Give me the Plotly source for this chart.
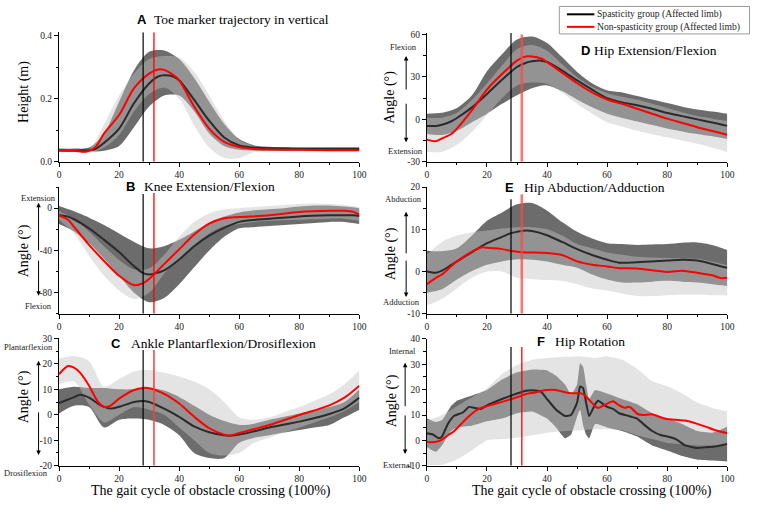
import plotly.graph_objects as go

W, H = 758, 506

# ---------------- data (x = % of gait cycle) ----------------
BAND_X = [0, 5, 10, 15, 20, 25, 30, 35, 40, 45, 50, 55, 60, 65, 70, 75, 80, 85, 90, 95, 100]

# A  Toe marker trajectory (m)
A_MEAN_X = [0, 5, 9, 12, 15, 20, 25, 30, 33, 35, 38, 40, 45, 50, 55, 60, 65, 70, 80, 90, 100]
A_SP_MEAN = [0.037, 0.036, 0.036, 0.040, 0.060, 0.105, 0.186, 0.248, 0.270, 0.274, 0.270, 0.258, 0.196, 0.130, 0.077, 0.052, 0.045, 0.043, 0.041, 0.041, 0.041]
A_NS_MEAN = [0.036, 0.035, 0.032, 0.045, 0.090, 0.148, 0.233, 0.279, 0.292, 0.291, 0.275, 0.258, 0.175, 0.105, 0.063, 0.047, 0.041, 0.039, 0.038, 0.037, 0.037]
A_SP_UP = [0.042, 0.042, 0.045, 0.09, 0.19, 0.29, 0.348, 0.352, 0.325, 0.265, 0.19, 0.12, 0.072, 0.052, 0.048, 0.047, 0.046, 0.046, 0.046, 0.046, 0.046]
A_SP_LO = [0.033, 0.032, 0.032, 0.035, 0.05, 0.11, 0.175, 0.21, 0.21, 0.16, 0.09, 0.05, 0.038, 0.035, 0.035, 0.035, 0.035, 0.035, 0.035, 0.035, 0.035]
A_NS_UP = [0.040, 0.040, 0.040, 0.12, 0.21, 0.28, 0.325, 0.335, 0.33, 0.285, 0.21, 0.13, 0.07, 0.05, 0.043, 0.042, 0.041, 0.041, 0.041, 0.041, 0.041]
A_NS_LO = [0.032, 0.031, 0.028, 0.045, 0.085, 0.16, 0.215, 0.235, 0.20, 0.115, 0.045, 0.012, 0.012, 0.030, 0.033, 0.033, 0.033, 0.033, 0.033, 0.033, 0.033]

# B  Knee extension/flexion (deg)
B_MEAN_X = [0, 3, 5, 10, 15, 20, 25, 28, 30, 35, 40, 45, 50, 55, 60, 70, 80, 90, 95, 98, 100]
B_SP_MEAN = [-6.8, -8, -10.5, -19.2, -30, -41.5, -55, -61.5, -62.8, -59, -48.7, -36, -26, -18.6, -13, -10, -7.8, -6.8, -6.6, -6.8, -7.4]
B_NS_MEAN = [-6.8, -10.9, -17.7, -34.7, -50, -64, -72.9, -71, -67, -53, -39, -25, -14.6, -9.5, -8.4, -6.8, -3.7, -2.5, -2.5, -3.5, -6.2]
B_SP_UP = [2, -3, -9, -16, -24, -32, -38, -36, -30, -22, -14, -8, -4, -2, -1, 0, 1.5, 2.5, 2.5, 1.5, 0]
B_SP_LO = [-15, -22, -33, -48, -64, -80, -89, -85, -72, -56, -40, -27, -19, -18, -17, -16, -15, -14, -13, -13, -15]
B_NS_UP = [-3, -10, -22, -36, -49, -58, -57, -44, -27, -13, -5, -1, 0, 1, 2, 3, 4, 4.5, 4, 3, 1]
B_NS_LO = [-11, -24, -45, -64, -78, -86, -80, -62, -48, -35, -24, -17, -15, -13, -12, -11.5, -11, -10.5, -10, -10, -12]

# C  Ankle plantarflexion/dorsiflexion (deg)
C_MEAN_X = [0, 3, 5, 7, 10, 13, 15, 17, 20, 25, 28, 30, 35, 40, 45, 50, 55, 57, 60, 65, 70, 80, 90, 95, 100]
C_SP_MEAN = [4.6, 6.0, 6.9, 7.8, 6.7, 4.3, 3.1, 2.4, 3.1, 5, 5.4, 5, 2.4, -0.8, -4.6, -6.9, -8.1, -8.2, -7.8, -6.5, -5, -2.7, 0.3, 2.5, 6.7]
C_NS_MEAN = [15.9, 19.1, 18.5, 16.5, 11.4, 5, 3.1, 3.5, 6.3, 9.7, 10.5, 10.4, 8.2, 4.4, -0.8, -5.3, -7.8, -8.1, -7.2, -5.6, -4, -0.1, 3.7, 6.7, 11.4]
C_SP_UP = [10, 11, 10.5, 10.5, 10, 10, 10.5, 9.5, 7, 3.5, 0, -2.5, -4, -3.5, -2, -0.8, 0.5, 1.8, 3, 5, 10]
C_SP_LO = [0.5, 3.5, 3, -5, -2, -1.5, -2, -4, -8, -15, -17, -17, -11, -9, -8, -7, -6, -5, -4, -1, 2]
C_NS_UP = [22, 23, 21, 11, 14, 17, 17.5, 16.5, 15, 13, 10, 5, -1, -2, -1, 1, 3, 5.5, 8, 12, 17.5]
C_NS_LO = [12, 13, 4, -3, 0, 3, 2, 0, -5, -10, -15, -16, -15, -11, -9, -7, -5, -3, -1, 1.5, 5]

# D  Hip extension/flexion (deg)
D_MEAN_X = [0, 3, 5, 8, 10, 15, 20, 25, 30, 33, 35, 38, 40, 45, 50, 55, 60, 65, 70, 75, 80, 85, 90, 95, 100]
D_SP_MEAN = [-4.6, -4.6, -3.8, -1.5, 1.0, 8.5, 18, 28, 37, 40, 41, 41.5, 40.5, 34.5, 27.5, 21, 15, 12, 10, 7.5, 4.5, 2.3, 0, -2.2, -4.6]
D_NS_MEAN = [-14.3, -15.5, -13.5, -10.5, -6.5, 6.5, 21, 32, 41.5, 44.5, 44.5, 43, 40.5, 33, 25.5, 19, 14, 11, 7.5, 4, 0.5, -2.5, -5.5, -8.2, -10.8]
D_SP_UP = [4, 4.6, 8, 17, 34, 46, 56.5, 58.5, 54, 44, 33.5, 25.5, 20.5, 19, 16.5, 14, 11.5, 9, 7, 5.5, 4]
D_SP_LO = [-10.4, -11, -8, -2, 4, 11, 17, 22, 24, 20, 14, 8.5, 4, 1, -1.5, -4, -6.5, -8.5, -10.4, -12, -13.8]
D_NS_UP = [1.2, 1.2, 4.6, 13.8, 25.4, 38, 49.6, 52.5, 48.5, 39, 30, 23, 18.5, 16, 13.8, 11, 8, 5, 2.3, 0.5, -1.2]
D_NS_LO = [-23, -23, -18, -9, 3, 15, 24, 26, 25, 19, 11, 4, -2, -5, -8, -10.5, -12.7, -15, -17.3, -20, -23]

# E  Hip abduction/adduction (deg)
E_MEAN_X = [0, 3, 5, 8, 10, 15, 18, 20, 25, 28, 30, 33, 35, 40, 45, 50, 55, 60, 64, 70, 80, 85, 90, 95, 98, 100]
E_SP_MEAN = [0, -0.3, 0.2, 1.5, 2.4, 4.6, 5.9, 6.7, 8.2, 9.1, 9.4, 9.7, 9.6, 8.6, 7, 5.3, 3.9, 2.8, 2.1, 2.2, 2.6, 2.8, 2.6, 1.8, 1.2, 0.9]
E_NS_MEAN = [-3, -1.5, -0.7, 1.2, 2.4, 4.7, 5.7, 5.6, 5.3, 4.9, 4.7, 4.5, 4.5, 4.4, 3.9, 2.4, 1.6, 1.2, 0.8, 0.7, -0.1, 0.2, -0.3, -0.9, -1.6, -1.5]
E_SP_UP = [4.9, 4.8, 5.5, 8.5, 12, 14, 15.9, 16.2, 14.4, 11.7, 9.4, 7.8, 6.7, 6.5, 6.3, 6.4, 6.5, 6.8, 6.9, 6.3, 5.1]
E_SP_LO = [-5, -4.2, -1.9, 0.1, 1.6, 2.4, 2.9, 2.8, 2.4, 1.6, 0.9, -0.7, -1.9, -2.6, -2.6, -2.4, -2.2, -2.4, -2.6, -3, -3.4]
E_NS_UP = [4, 7, 8.5, 9.3, 9.7, 10.2, 10.5, 10.5, 10, 8.5, 6.5, 5.5, 4.5, 4, 3.5, 3.3, 3.2, 3.1, 3, 2.3, 1.5]
E_NS_LO = [-8, -6.5, -4, -1.5, 0, 0, -1.5, -1.8, -2, -2.2, -3, -4, -4.5, -5.2, -5.8, -5.8, -5.6, -5.5, -5.5, -5.6, -5.6]

# F  Hip rotation (deg)
F_MEAN_X = [0, 2, 4, 5, 7, 9, 12, 14, 16, 18, 20, 25, 30, 33, 36, 38, 40, 43, 46, 48, 50, 51, 52, 54, 56, 57, 60, 62, 64, 66, 67, 68, 70, 72, 75, 78, 80, 83, 86, 90, 93, 96, 100]
F_SP_MEAN = [2.8, 2.3, 0.8, 1.5, 6.5, 9.6, 11, 13.2, 12.8, 12.4, 13.8, 16.3, 18.5, 19.6, 19.7, 19.2, 16.3, 12.1, 9.6, 10, 14.9, 21.3, 20.6, 9.6, 14.2, 15.6, 13.2, 12.4, 10.7, 10, 9.7, 9.3, 8.6, 6.5, 3.7, 2, 1.5, 0.4, -2, -3, -2.7, -2.4, -1.4]
F_NS_MEAN = [-0.6, -0.7, -0.3, 0.3, 2, 3.6, 7.2, 9.5, 11.5, 12.8, 13.5, 15.2, 17, 18.3, 18.9, 19.5, 19.9, 19.9, 19, 18.6, 18.6, 18.6, 18.2, 16, 13.5, 12.8, 14.5, 15.4, 13.8, 12.8, 13.3, 12.8, 10.5, 10, 10.3, 9, 8.4, 8.1, 7.8, 6.5, 5.3, 4, 2.8]
F_BAND_X = [0, 3, 5, 8, 10, 15, 20, 25, 30, 35, 40, 43, 46, 48, 50, 51, 52, 53, 54, 56, 60, 65, 70, 75, 80, 85, 90, 95, 100]
F_SP_UP = [8.6, 7.2, 7.9, 13.5, 15.6, 17.7, 19.9, 24, 26.9, 27.9, 27.6, 25.5, 22, 18, 22, 30.4, 29, 22, 16.3, 19.9, 18.5, 16.3, 14.2, 10.7, 8.6, 6.5, 3.7, 3, 5.4]
F_SP_LO = [-2.7, -4.5, -2, 3.7, 5.1, 5.8, 7.5, 8.6, 10.7, 11.4, 8.6, 5.1, 0.8, 2.3, 9.3, 12.1, 6, 2.3, 0.8, 6.5, 5.1, 3.7, 1.5, -2, -4, -6.2, -7.6, -7.9, -8.3]
F_NS_UP = [7.9, 9, 10, 12, 13.5, 17, 20.6, 26.2, 29.7, 31.8, 32.5, 32.8, 33, 33, 33.2, 33.2, 33, 33, 32.8, 32.5, 33.2, 31.8, 28.3, 23.4, 21.3, 18.5, 14.9, 12.8, 11.4]
F_NS_LO = [-9.7, -9.7, -9.7, -8.5, -7.6, -4, 0, 0.5, 1, 2, 3, 3.4, 3.7, 3.8, 3.9, 4, 4.1, 4.2, 4.3, 4.4, 4.4, 4, 2, 0.5, -1, -1.5, -2, -2, -2]

# toe-off / obstacle events (% of cycle)
EVENT_SP = 28.0
EVENT_NS = 31.6

SP_NAME = "Spasticity group (Affected limb)"
NS_NAME = "Non-spasticity group (Affected limb)"
X_TITLE = "The gait cycle of obstacle crossing (100%)"

X_TICKS = [0, 20, 40, 60, 80, 100]
X_MINOR = [10, 30, 50, 70, 90]

# ---------------- style ----------------
SERIF = "Liberation Serif"
SANS = "Liberation Sans"
DARK = "rgb(108,108,108)"
LIGHT = "rgba(195,195,195,0.45)"
BLACK_LINE = "#2b2b2b"
RED = "#ff0000"


def fx(p):
    return p / W


def fy(p):
    return 1 - p / H


COL_X = [(57.7, 361.7), (430.0, 734.0)]

panels = [
    dict(letter="A", title="Toe marker trajectory in vertical", col=0, top=27.8, bot=160.0,
         rng=[0, 0.41], tv=[0, 0.2, 0.4], tt=["0.0", "0.2", "0.4"], minor=[0.1, 0.3],
         mx=A_MEAN_X, sp=A_SP_MEAN, ns=A_NS_MEAN, bx=BAND_X,
         spu=A_SP_UP, spl=A_SP_LO, nsu=A_NS_UP, nsl=A_NS_LO,
         vtop=(0.41, 0.41), redw=1.3, redc=RED, smooth=0.8,
         ytitle="Height (m)", ytx=23, yty=89,
         letter_xy=(141.7, 15), title_x=152,
         labels=None),
    dict(letter="B", title="Knee Extension/Flexion", col=0, top=185.7, bot=315.0,
         rng=[-100, 20], tv=[-80, -40, 0], tt=["-80", "-40", "0"], minor=[-100, -60, -20, 20],
         mx=B_MEAN_X, sp=B_SP_MEAN, ns=B_NS_MEAN, bx=BAND_X,
         spu=B_SP_UP, spl=B_SP_LO, nsu=B_NS_UP, nsl=B_NS_LO,
         vtop=(13.4, 14.3), redw=1.3, redc=RED, smooth=0.8,
         ytitle="Angle (\u00b0)", ytx=22.5, yty=251,
         letter_xy=(130, 185), title_x=142,
         labels=dict(up=("Extension", 36.7, 196.7), dn=("Flexion", 37, 306.7),
                     ax=37, a1=(201.7, 251), a2=(260, 296.7))),
    dict(letter="C", title="Ankle Plantarflexion/Drosiflexion", col=0, top=340.0, bot=470.0,
         rng=[-20, 30], tv=[-20, -10, 0, 10, 20, 30], tt=["-20", "-10", "0", "10", "20", "30"],
         minor=[-15, -5, 5, 15, 25],
         mx=C_MEAN_X, sp=C_SP_MEAN, ns=C_NS_MEAN, bx=BAND_X,
         spu=C_SP_UP, spl=C_SP_LO, nsu=C_NS_UP, nsl=C_NS_LO,
         vtop=(25.4, 25.4), redw=1.8, redc="rgba(255,60,60,0.85)", smooth=0.8,
         ytitle="Angle (\u00b0)", ytx=22.5, yty=400,
         letter_xy=(115.3, 345), title_x=129,
         labels=dict(up=("Plantarflexion", 26.5, 349.3), dn=("Drosiflexion", 24, 477.5),
                     ax=37, a1=(363, 405), a2=(415, 459))),
    dict(letter="D", title="Hip Extension/Flexion", col=1, top=28.6, bot=160.0,
         rng=[-30, 61], tv=[-30, 0, 30, 60], tt=["-30", "0", "30", "60"], minor=[-15, 15, 45],
         mx=D_MEAN_X, sp=D_SP_MEAN, ns=D_NS_MEAN, bx=BAND_X,
         spu=D_SP_UP, spl=D_SP_LO, nsu=D_NS_UP, nsl=D_NS_LO,
         vtop=(61, 60), redw=2.6, redc="rgba(255,70,70,0.75)", smooth=0.8,
         ytitle="Angle (\u00b0)", ytx=393.3, yty=94,
         letter_xy=(590.3, 46), title_x=597.5,
         labels=dict(up=("Flexion", 406.7, 42.7), dn=("Extension", 408.3, 149.3),
                     ax=409, a1=(52, 87), a2=(100, 140))),
    dict(letter="E", title="Hip Abduction/Adduction", col=1, top=185.7, bot=315.0,
         rng=[-10, 20], tv=[-10, 0, 10, 20], tt=["-10", "0", "10", "20"], minor=[-5, 5, 15],
         mx=E_MEAN_X, sp=E_SP_MEAN, ns=E_NS_MEAN, bx=BAND_X,
         spu=E_SP_UP, spl=E_SP_LO, nsu=E_NS_UP, nsl=E_NS_LO,
         vtop=(17.1, 18.3), redw=2.6, redc="rgba(255,70,70,0.75)", smooth=0.8,
         ytitle="Angle (\u00b0)", ytx=394, yty=254,
         letter_xy=(514, 186.5), title_x=526,
         labels=dict(up=("Abduction", 406.5, 197.7), dn=("Adduction", 404.5, 303.3),
                     ax=409, a1=(211, 254), a2=(260, 298))),
    dict(letter="F", title="Hip Rotation", col=1, top=340.7, bot=470.0,
         rng=[-10, 40], tv=[-10, 0, 10, 20, 30, 40], tt=["-10", "0", "10", "20", "30", "40"],
         minor=[-5, 5, 15, 25, 35],
         mx=F_MEAN_X, sp=F_SP_MEAN, ns=F_NS_MEAN, bx=F_BAND_X,
         spu=F_SP_UP, spl=F_SP_LO, nsu=F_NS_UP, nsl=F_NS_LO,
         vtop=(36.8, 36.8), redw=1.3, redc=RED, smooth=0.4,
         ytitle="Angle (\u00b0)", ytx=395, yty=404,
         letter_xy=(545.3, 343), title_x=557.5,
         labels=dict(up=("Internal", 405, 352.7), dn=("External", 400.5, 469),
                     ax=408, a1=(365, 410), a2=(418, 458))),
]

fig = go.Figure()
annotations = []
shapes = []
layout_axes = {}

for i, p in enumerate(panels, start=1):
    xa = "x" if i == 1 else f"x{i}"
    ya = "y" if i == 1 else f"y{i}"
    xname = "xaxis" if i == 1 else f"xaxis{i}"
    yname = "yaxis" if i == 1 else f"yaxis{i}"
    c0, c1 = COL_X[p["col"]]

    layout_axes[xname] = dict(
        domain=[fx(c0), fx(c1)], range=[0, 100], anchor=ya,
        showline=True, linecolor="black", linewidth=1, showgrid=False, zeroline=False,
        ticks="outside", ticklen=4, tickwidth=1, tickcolor="black",
        tickmode="array", tickvals=X_TICKS, ticktext=[str(v) for v in X_TICKS],
        minor=dict(tickmode="array", tickvals=X_MINOR, ticks="outside", ticklen=2.5,
                   tickcolor="black", tickwidth=1),
        tickfont=dict(family=SERIF, size=9.5, color="#222"),
    )
    layout_axes[yname] = dict(
        domain=[fy(p["bot"]), fy(p["top"])], range=p["rng"], anchor=xa,
        showline=True, linecolor="black", linewidth=1, showgrid=False, zeroline=False,
        ticks="outside", ticklen=4, tickwidth=1, tickcolor="black",
        tickmode="array", tickvals=p["tv"], ticktext=p["tt"],
        minor=dict(tickmode="array", tickvals=p["minor"], ticks="outside", ticklen=2.5,
                   tickcolor="black", tickwidth=1),
        tickfont=dict(family=SERIF, size=9.5, color="#222"),
    )

    sm = p["smooth"]
    # spasticity SD band (dark)
    fig.add_trace(go.Scatter(x=p["bx"], y=p["spl"], mode="lines", xaxis=xa, yaxis=ya,
                             line=dict(width=0, shape="spline", smoothing=sm),
                             hoverinfo="skip", showlegend=False))
    fig.add_trace(go.Scatter(x=p["bx"], y=p["spu"], mode="lines", xaxis=xa, yaxis=ya,
                             line=dict(width=0, shape="spline", smoothing=sm),
                             fill="tonexty", fillcolor=DARK, hoverinfo="skip", showlegend=False))
    # non-spasticity SD band (light)
    fig.add_trace(go.Scatter(x=p["bx"], y=p["nsl"], mode="lines", xaxis=xa, yaxis=ya,
                             line=dict(width=0, shape="spline", smoothing=sm),
                             hoverinfo="skip", showlegend=False))
    fig.add_trace(go.Scatter(x=p["bx"], y=p["nsu"], mode="lines", xaxis=xa, yaxis=ya,
                             line=dict(width=0, shape="spline", smoothing=sm),
                             fill="tonexty", fillcolor=LIGHT, hoverinfo="skip", showlegend=False))
    # means
    fig.add_trace(go.Scatter(x=p["mx"], y=p["sp"], mode="lines", xaxis=xa, yaxis=ya, name=SP_NAME,
                             line=dict(color=BLACK_LINE, width=2, shape="spline", smoothing=sm),
                             showlegend=False))
    fig.add_trace(go.Scatter(x=p["mx"], y=p["ns"], mode="lines", xaxis=xa, yaxis=ya, name=NS_NAME,
                             line=dict(color=RED, width=2, shape="spline", smoothing=sm),
                             showlegend=False))

    # event lines
    shapes.append(dict(type="line", xref=xa, yref=ya, x0=EVENT_SP, x1=EVENT_SP,
                       y0=p["rng"][0], y1=p["vtop"][0], line=dict(color="black", width=1.2),
                       layer="above"))
    shapes.append(dict(type="line", xref=xa, yref=ya, x0=EVENT_NS, x1=EVENT_NS,
                       y0=p["rng"][0], y1=p["vtop"][1], line=dict(color=p["redc"], width=p["redw"]),
                       layer="above"))

    # panel title
    lx, ly = p["letter_xy"]
    annotations.append(dict(xref="paper", yref="paper", x=fx(lx), y=fy(ly), text="<b>%s</b>" % p["letter"],
                            showarrow=False, xanchor="center", yanchor="middle",
                            font=dict(family=SANS, size=13, color="black")))
    annotations.append(dict(xref="paper", yref="paper", x=fx(p["title_x"]), y=fy(ly), text=p["title"],
                            showarrow=False, xanchor="left", yanchor="middle",
                            font=dict(family=SERIF, size=13.5, color="black")))
    # y title
    annotations.append(dict(xref="paper", yref="paper", x=fx(p["ytx"]), y=fy(p["yty"]), text=p["ytitle"],
                            showarrow=False, xanchor="center", yanchor="middle", textangle=-90,
                            font=dict(family=SERIF, size=14, color="black")))
    # direction labels and arrows
    lab = p["labels"]
    if lab:
        for key in ("up", "dn"):
            t, tx, ty = lab[key]
            annotations.append(dict(xref="paper", yref="paper", x=fx(tx), y=fy(ty), text=t,
                                    showarrow=False, xanchor="center", yanchor="middle",
                                    font=dict(family=SERIF, size=8.5, color="#222")))
        axp = lab["ax"]
        h1, t1 = lab["a1"]
        annotations.append(dict(xref="paper", yref="paper", x=fx(axp), y=fy(h1), text="",
                                showarrow=True, ax=0, ay=t1 - h1, axref="pixel", ayref="pixel",
                                arrowhead=2, arrowsize=0.9, arrowwidth=1, arrowcolor="black", standoff=0))
        t2, h2 = lab["a2"]
        annotations.append(dict(xref="paper", yref="paper", x=fx(axp), y=fy(h2), text="",
                                showarrow=True, ax=0, ay=t2 - h2, axref="pixel", ayref="pixel",
                                arrowhead=2, arrowsize=0.9, arrowwidth=1, arrowcolor="black", standoff=0))

# x titles (bottom row)
for cx in (211.7, 596.7):
    annotations.append(dict(xref="paper", yref="paper", x=fx(cx), y=fy(496), text=X_TITLE,
                            showarrow=False, xanchor="center", yanchor="middle",
                            font=dict(family=SERIF, size=14, color="black")))

# legend box
shapes.append(dict(type="rect", xref="paper", yref="paper", x0=fx(564), x1=fx(756.5),
                   y0=fy(29.5), y1=fy(1.5), line=dict(color="#9a9a9a", width=1), fillcolor="white",
                   layer="above"))
for (yy, col, name) in ((9.5, "black", SP_NAME), (22.3, RED, NS_NAME)):
    shapes.append(dict(type="line", xref="paper", yref="paper", x0=fx(571.7), x1=fx(599.5),
                       y0=fy(yy), y1=fy(yy), line=dict(color=col, width=2), layer="above"))
    annotations.append(dict(xref="paper", yref="paper", x=fx(600.5), y=fy(yy), text=name,
                            showarrow=False, xanchor="left", yanchor="middle",
                            font=dict(family=SERIF, size=9.6, color="#222")))

fig.update_layout(
    width=W, height=H, margin=dict(l=0, r=0, t=0, b=0),
    paper_bgcolor="white", plot_bgcolor="white", showlegend=False,
    annotations=annotations, shapes=shapes, **layout_axes,
)

fig.write_html(
    "out.html",
    config={"displayModeBar": False},
    post_script="document.body.style.margin='0';document.body.style.overflow='hidden';",
)
